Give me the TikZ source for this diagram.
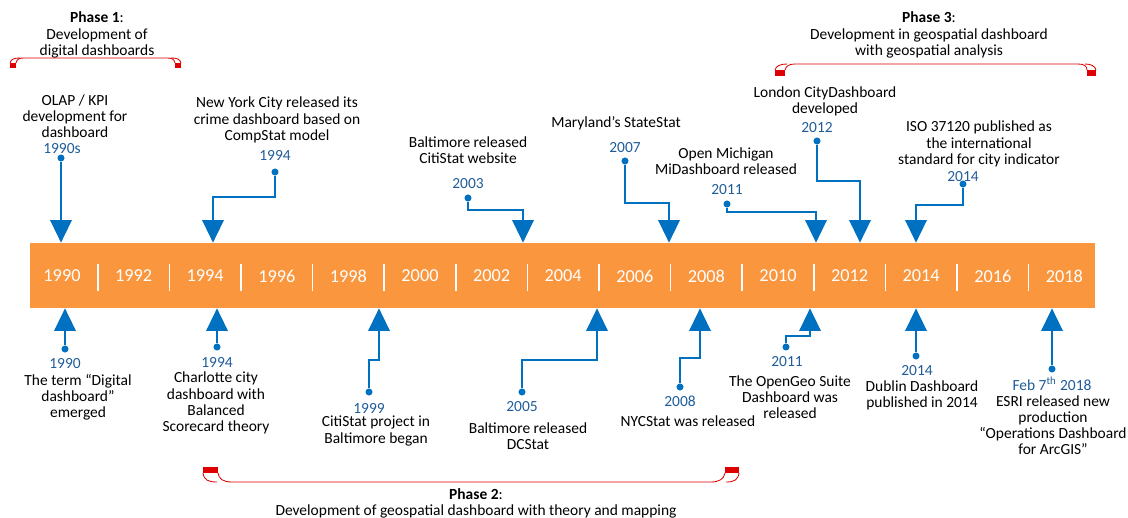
\documentclass[tikz,border=0pt]{standalone}
\usepackage{fontspec}
\setmainfont{Carlito}
\usepackage{xcolor}
\usetikzlibrary{arrows.meta}

\definecolor{barorange}{RGB}{250,150,62}
\definecolor{arrblue}{RGB}{0,112,192}
\definecolor{yrblue}{RGB}{31,92,153}
\definecolor{phred}{RGB}{222,0,0}

\tikzset{
  evtext/.style={align=center, inner sep=0pt, font=\fontsize{11}{11.5}\selectfont},
  evyear/.style={inner sep=0pt, text=yrblue, font=\fontsize{11}{12}\selectfont},
  baryear/.style={inner sep=0pt, text=white, font=\fontsize{13}{14}\selectfont},
  evdot/.style={circle, fill=arrblue, inner sep=0pt, minimum size=5pt},
  evarrow/.style={draw=arrblue, line width=1.9pt, -{Triangle[width=15pt,length=16pt]}},
  phline/.style={draw=phred, line width=0.6pt},
  phtab/.style={fill=phred},
}

\begin{document}
\begin{tikzpicture}[x=0.025cm, y=-0.025cm]
                \useasboundingbox (0,0) rectangle (1128,518);

                %% bar
                \node[fill=barorange, inner sep=0pt, minimum width=26.625cm, minimum height=1.625cm] (bar) at (562.5,275.5) {};
                \foreach \yr [count=\i from 0] in {1990,1992,...,2018}
                    \node[baryear] (y\yr) at ({62+71.6*\i},276) {\yr};
                \foreach \i in {0,...,13}
                    \draw[white, line width=1.2pt] ({97.8+71.6*\i},264) -- ++(0,27);

                %% above the bar
                % OLAP / KPI
                \node[evtext] (olap) at (75,116) {OLAP / KPI\\development for\\dashboard};
                \node[evyear] (olapyr) at (62,149) {1990s};
                \node[evdot] (olapdot) at (61,158) {};
                \draw[evarrow] (olapdot) -- (olapdot |- bar.north);

                % NYC
                \node[evtext] (nyc) at (277,120) {New York City released its\\crime dashboard based on\\CompStat model};
                \node[evyear] (nycyr) at (275,155) {1994};
                \node[evdot] (nycdot) at (275,172) {};
                \coordinate (nycbend) at (213,197);
                \draw[evarrow] (nycdot) |- (nycbend) -- (nycbend |- bar.north);

                % CitiStat website
                \node[evtext] (citiweb) at (468,150) {Baltimore released\\CitiStat website};
                \node[evyear] (citiwebyr) at (468,184) {2003};
                \node[evdot] (citiwebdot) at (468,198) {};
                \coordinate (citiwebbend) at (523,210);
                \draw[evarrow] (citiwebdot) |- (citiwebbend) -- (citiwebbend |- bar.north);

                % StateStat
                \node[evtext] (mary) at (616,123) {Maryland’s StateStat};
                \node[evyear] (maryyr) at (625,148) {2007};
                \node[evdot] (marydot) at (625,161) {};
                \coordinate (marybend) at (669,203);
                \draw[evarrow] (marydot) |- (marybend) -- (marybend |- bar.north);

                % MiDashboard
                \node[evtext] (mich) at (726,161) {Open Michigan\\MiDashboard released};
                \node[evyear] (michyr) at (727,190) {2011};
                \node[evdot] (michdot) at (727,204) {};
                \coordinate (michbend) at (816,212);
                \draw[evarrow] (michdot) |- (michbend) -- (michbend |- bar.north);

                % London
                \node[evtext] (lond) at (825,101) {London CityDashboard\\developed};
                \node[evyear] (londyr) at (817,128) {2012};
                \node[evdot] (londdot) at (817,141) {};
                \coordinate (londbend) at (860,181);
                \draw[evarrow] (londdot) |- (londbend) -- (londbend |- bar.north);

                % ISO
                \node[evtext] (iso) at (979,144) {ISO 37120 published as\\the international\\standard for city indicator};
                \node[evyear] (isoyr) at (963,177) {2014};
                \node[evdot] (isodot) at (963,184) {};
                \coordinate (isobend) at (916,205);
                \draw[evarrow] (isodot) |- (isobend) -- (isobend |- bar.north);

                %% below the bar
                % Digital dashboard
                \node[evdot] (termdot) at (65,349) {};
                \node[evyear] (termyr) at (65,364) {1990};
                \node[evtext] (term) at (78,397) {The term “Digital\\dashboard”\\emerged};
                \draw[evarrow] (termdot) -- (termdot |- bar.south);

                % Charlotte
                \node[evdot] (charldot) at (217,347) {};
                \node[evyear] (charlyr) at (217,362) {1994};
                \node[evtext] (charl) at (216,403) {Charlotte city\\dashboard with\\Balanced\\Scorecard theory};
                \draw[evarrow] (charldot) -- (charldot |- bar.south);

                % CitiStat project
                \node[evdot] (citiprdot) at (369,392) {};
                \node[evyear] (citipryr) at (369,408) {1999};
                \node[evtext] (citipr) at (376,431) {CitiStat project in\\Baltimore began};
                \coordinate (citiprbend) at (379,360);
                \draw[evarrow] (citiprdot) |- (citiprbend) -- (citiprbend |- bar.south);

                % DCStat
                \node[evdot] (dcdot) at (522,392) {};
                \node[evyear] (dcyr) at (522,407) {2005};
                \node[evtext] (dc) at (528,436) {Baltimore released\\DCStat};
                \coordinate (dcbend) at (597,360);
                \draw[evarrow] (dcdot) |- (dcbend) -- (dcbend |- bar.south);

                % NYCStat
                \node[evdot] (nycsdot) at (680,387) {};
                \node[evyear] (nycsyr) at (680,401) {2008};
                \node[evtext] (nycs) at (688,421) {NYCStat was released};
                \coordinate (nycsbend) at (700,358);
                \draw[evarrow] (nycsdot) |- (nycsbend) -- (nycsbend |- bar.south);

                % OpenGeo
                \node[evdot] (geodot) at (786,347) {};
                \node[evyear] (geoyr) at (787,362) {2011};
                \node[evtext] (geo) at (790,397) {The OpenGeo Suite\\Dashboard was\\released};
                \coordinate (geobend) at (810,336);
                \draw[evarrow] (geodot) |- (geobend) -- (geobend |- bar.south);

                % Dublin
                \node[evdot] (dubdot) at (916,356) {};
                \node[evyear] (dubyr) at (917,371) {2014};
                \node[evtext] (dub) at (922,395) {Dublin Dashboard\\published in 2014};
                \draw[evarrow] (dubdot) -- (dubdot |- bar.south);

                % ESRI
                \node[evdot] (esridot) at (1052,369) {};
                \node[evyear] (esriyr) at (1052,384) {Feb 7\textsuperscript{th} 2018};
                \node[evtext] (esri) at (1053,425) {ESRI released new\\production\\“Operations Dashboard\\for ArcGIS”};
                \draw[evarrow] (esridot) -- (esridot |- bar.south);

                %% phases
                % Phase 1
                \node[evtext] (ph1) at (97,35) {\textbf{Phase 1}:\\Development of\\digital dashboards};
                \fill[phtab] (10,63) rectangle (16,68);
                \fill[phtab] (175,63) rectangle (181,68);
                \draw[phline] (16,63) .. controls (17,59) and (19,58) .. (24,58) -- (167,58) .. controls (172,58) and (174,59) .. (175,63);
                \draw[phline] (10,63) .. controls (11,59) and (14,58) .. (20,58);
                \draw[phline] (181,63) .. controls (180,59) and (177,58) .. (171,58);

                % Phase 2
                \node[evtext] (ph2) at (476,503) {\textbf{Phase 2}:\\Development of geospatial dashboard with theory and mapping};
                \fill[phtab] (203,467) rectangle (218,473);
                \fill[phtab] (725,467) rectangle (739,473);
                \draw[phline] (218,473) .. controls (219,479) and (223,482) .. (232,482) -- (711,482) .. controls (719,482) and (724,479) .. (725,473);
                \draw[phline] (203,473) .. controls (204,480) and (208,482) .. (217,482);
                \draw[phline] (739,473) .. controls (738,480) and (734,482) .. (726,482);

                % Phase 3
                \node[evtext] (ph3) at (929,35) {\textbf{Phase 3}:\\Development in geospatial dashboard\\with geospatial analysis};
                \fill[phtab] (775,70) rectangle (785,76);
                \fill[phtab] (1087,70) rectangle (1096,76);
                \draw[phline] (785,70) .. controls (786,66) and (789,64) .. (795,64) -- (1078,64) .. controls (1084,64) and (1087,66) .. (1087,70);
                \draw[phline] (775,70) .. controls (776,66) and (780,64) .. (787,64);
                \draw[phline] (1096,70) .. controls (1095,66) and (1091,64) .. (1085,64);

\end{tikzpicture}
\end{document}
